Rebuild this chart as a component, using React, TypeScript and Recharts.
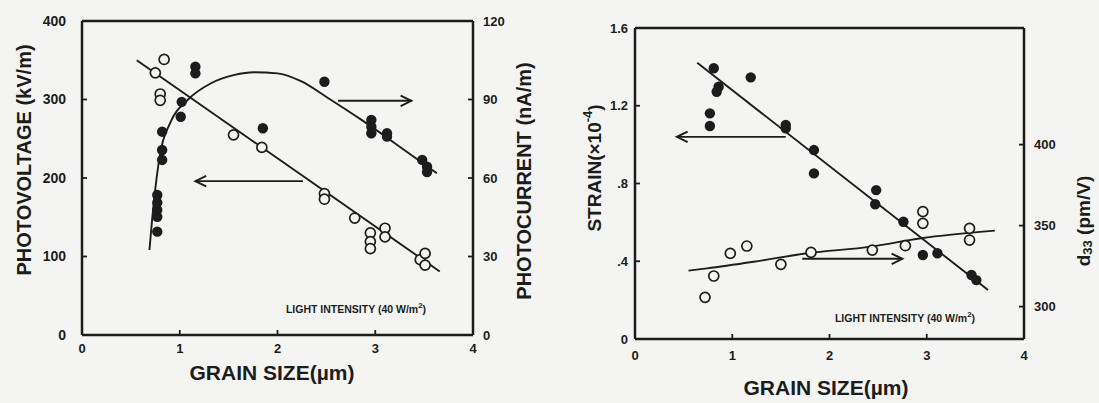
import React from 'react';
import { ScatterChart, Scatter, XAxis, YAxis, ReferenceLine } from 'recharts';

const BG = '#f4f5f2';
const INK = '#1c1c1c';
const FONT = '"Liberation Sans", Arial, sans-serif';

// ---------- Left panel data ----------
const grainTicks = [0, 1, 2, 3, 4];
const photovoltageTicks = [0, 100, 200, 300, 400];
const photocurrentTicks = [0, 30, 60, 90, 120];

const pvGrain = [0.75, 0.84, 0.8, 0.8, 1.55, 1.84, 2.48, 2.48, 2.79, 2.95, 2.95, 2.95, 3.1, 3.1, 3.46, 3.51, 3.51];
const pvValue = [334, 351, 307, 299, 255, 239, 180, 173, 149, 130, 119, 110, 136, 125, 96, 104, 89];

const pcGrain = [0.77, 0.77, 0.77, 0.77, 0.77, 0.82, 0.82, 0.82, 1.01, 1.02, 1.16, 1.16, 1.85, 2.48, 2.96, 2.96, 2.96, 3.12, 3.12, 3.48, 3.53, 3.53];
const pcValue = [39.5, 45.2, 47.8, 50.6, 53.5, 66.9, 70.7, 77.7, 83.4, 89.1, 102.5, 100, 79, 96.8, 82.2, 79.6, 77.1, 77.1, 75.8, 66.9, 64.3, 62.3];

const pvFitGrain = [0.56, 3.66];
const pvFitValue = [350, 81];

const pcCurveGrain = [0.69, 0.73, 0.8, 0.9, 1.08, 1.32, 1.56, 1.76, 2.0, 2.24, 2.52, 2.86, 3.2, 3.63];
const pcCurveValue = [32.5, 49, 69.4, 80.9, 89.8, 96.2, 99.4, 100.4, 100, 97, 90.5, 82.2, 73.3, 61.8];

const pvArrowGrain = [2.26, 1.16];
const pvArrowValue = [196, 196];
const pcArrowGrain = [2.62, 3.37];
const pcArrowValue = [89.5, 89.5];

// ---------- Right panel data ----------
const strainTicks = [0, 0.4, 0.8, 1.2, 1.6];
const d33Ticks = [300, 350, 400];

const strainGrain = [0.81, 0.86, 0.84, 1.19, 0.77, 0.77, 1.55, 1.55, 1.84, 1.84, 2.48, 2.47, 2.76, 2.96, 3.11, 3.46, 3.51];
const strainValue = [1.393, 1.298, 1.272, 1.346, 1.161, 1.096, 1.101, 1.084, 0.972, 0.852, 0.766, 0.693, 0.603, 0.432, 0.441, 0.329, 0.303];

const d33Grain = [0.72, 0.81, 0.98, 1.15, 1.5, 1.81, 2.44, 2.78, 2.96, 2.96, 3.44, 3.44];
const d33Value = [305.7, 318.9, 332.9, 337.4, 326.1, 333.5, 334.9, 337.6, 358.6, 351.4, 348.3, 341.1];

const strainFitGrain = [0.64, 3.63];
const strainFitValue = [1.421, 0.252];

const d33CurveGrain = [0.55, 0.74, 1.22, 1.77, 2.43, 2.94, 3.7];
const d33CurveValue = [322.2, 323.6, 327.7, 332.9, 337, 342.2, 346.9];

const strainArrowGrain = [1.55, 0.43];
const strainArrowValue = [1.04, 1.04];
const d33ArrowGrain = [1.72, 2.75];
const d33ArrowValue = [329.5, 329.5];

const zip = (xs: number[], ys: number[]) => xs.map((x, i) => ({ x, y: ys[i] }));

const OpenDot = (p: any) => (
  <circle cx={p.cx} cy={p.cy} r={5} fill={BG} stroke={INK} strokeWidth={1.7} />
);
const FilledDot = (p: any) => <circle cx={p.cx} cy={p.cy} r={5.2} fill={INK} />;
const NoDot = () => <g />;

const ArrowShape = (p: any) => {
  const { x1, y1, x2, y2 } = p;
  const ang = Math.atan2(y2 - y1, x2 - x1);
  const L = 12;
  const a = 0.45;
  const ax = x2 - L * Math.cos(ang - a);
  const ay = y2 - L * Math.sin(ang - a);
  const bx = x2 - L * Math.cos(ang + a);
  const by = y2 - L * Math.sin(ang + a);
  return (
    <g>
      <line x1={x1} y1={y1} x2={x2} y2={y2} stroke={INK} strokeWidth={1.9} />
      <polyline points={`${ax},${ay} ${x2},${y2} ${bx},${by}`} fill="none" stroke={INK} strokeWidth={1.9} />
    </g>
  );
};

const title = (text: React.ReactNode, x: number, y: number, angle: number, size: number) => ({
  content: () => (
    <text
      x={x}
      y={y}
      transform={angle ? `rotate(${angle} ${x} ${y})` : undefined}
      textAnchor="middle"
      dominantBaseline="central"
      fontFamily={FONT}
      fontWeight="bold"
      fontSize={size}
      fill={INK}
    >
      {text}
    </text>
  ),
});

const axisLine = { stroke: INK, strokeWidth: 2.5 };
const tickLine = { stroke: INK, strokeWidth: 1.8 };
const tickStyle = (size: number) => ({ fill: INK, fontSize: size, fontWeight: 'bold' as const, fontFamily: FONT });

const strainFmt = (v: number) => (v === 0 ? '0' : v >= 1 ? v.toFixed(1) : '.' + Math.round(v * 10));

const lineStyle = { stroke: INK, strokeWidth: 1.9, fill: 'none' };

function LeftPanel() {
  return (
    <ScatterChart width={550} height={403} margin={{ top: 21, right: 0, bottom: 0, left: 0 }}>
      <XAxis
        type="number"
        dataKey="x"
        domain={[0, 4]}
        ticks={grainTicks}
        height={68}
        axisLine={axisLine}
        tickLine={tickLine}
        tickSize={-5}
        tickMargin={14}
        tick={tickStyle(13)}
        label={title('GRAIN SIZE(µm)', 272, 372, 0, 21)}
      />
      <YAxis
        yAxisId="left"
        type="number"
        dataKey="y"
        domain={[0, 400]}
        ticks={photovoltageTicks}
        width={82}
        axisLine={axisLine}
        tickLine={tickLine}
        tickSize={-5}
        tickMargin={21}
        tick={tickStyle(14)}
        label={title('PHOTOVOLTAGE (kV/m)', 24, 160, -90, 20)}
      />
      <YAxis
        yAxisId="right"
        orientation="right"
        type="number"
        dataKey="y"
        domain={[0, 120]}
        ticks={photocurrentTicks}
        width={77}
        axisLine={axisLine}
        tickLine={tickLine}
        tickSize={-5}
        tickMargin={15}
        tick={tickStyle(13)}
        label={title('PHOTOCURRENT (nA/m)', 524, 181, -90, 20)}
      />
      <ReferenceLine yAxisId="left" y={400} stroke={INK} strokeWidth={2.5} />
      <ReferenceLine yAxisId="left" segment={zip(pvArrowGrain, pvArrowValue)} shape={ArrowShape} />
      <ReferenceLine yAxisId="right" segment={zip(pcArrowGrain, pcArrowValue)} shape={ArrowShape} />
      <Scatter yAxisId="left" data={zip(pvFitGrain, pvFitValue)} line={lineStyle} shape={NoDot} isAnimationActive={false} />
      <Scatter
        yAxisId="right"
        data={zip(pcCurveGrain, pcCurveValue)}
        line={lineStyle}
        lineJointType="monotoneX"
        shape={NoDot}
        isAnimationActive={false}
      />
      <Scatter yAxisId="left" data={zip(pvGrain, pvValue)} shape={OpenDot} isAnimationActive={false} />
      <Scatter yAxisId="right" data={zip(pcGrain, pcValue)} shape={FilledDot} isAnimationActive={false} />
      <ReferenceLine
        yAxisId="left"
        y={0}
        stroke="none"
        label={title(
          <>
            LIGHT INTENSITY (40 W/m<tspan dy={-4} fontSize={8}>2</tspan>
            <tspan dy={4}>)</tspan>
          </>,
          356,
          309,
          0,
          10.5
        )}
      />
    </ScatterChart>
  );
}

function RightPanel() {
  return (
    <ScatterChart width={549} height={403} margin={{ top: 28, right: 0, bottom: 0, left: 0 }}>
      <XAxis
        type="number"
        dataKey="x"
        domain={[0, 4]}
        ticks={grainTicks}
        height={64}
        axisLine={axisLine}
        tickLine={tickLine}
        tickSize={-5}
        tickMargin={17}
        tick={tickStyle(13)}
        label={title('GRAIN SIZE(µm)', 276, 387, 0, 21)}
      />
      <YAxis
        yAxisId="left"
        type="number"
        dataKey="y"
        domain={[0, 1.6]}
        ticks={strainTicks}
        tickFormatter={strainFmt}
        width={85}
        axisLine={axisLine}
        tickLine={tickLine}
        tickSize={-5}
        tickMargin={12}
        tick={tickStyle(13)}
        label={title(
          <>
            STRAIN(×10<tspan dy={-7} fontSize={13}>-4</tspan>
            <tspan dy={7}>)</tspan>
          </>,
          44,
          168,
          -90,
          19
        )}
      />
      <YAxis
        yAxisId="right"
        orientation="right"
        type="number"
        dataKey="y"
        domain={[280, 472]}
        ticks={d33Ticks}
        width={75}
        axisLine={axisLine}
        tickLine={tickLine}
        tickSize={-5}
        tickMargin={15}
        tick={tickStyle(13)}
        label={title(
          <>
            d<tspan dy={4} fontSize={13}>33</tspan>
            <tspan dy={-4}> (pm/V)</tspan>
          </>,
          533,
          221,
          -90,
          19
        )}
      />
      <ReferenceLine yAxisId="left" y={1.6} stroke={INK} strokeWidth={2.5} />
      <ReferenceLine yAxisId="left" segment={zip(strainArrowGrain, strainArrowValue)} shape={ArrowShape} />
      <ReferenceLine yAxisId="right" segment={zip(d33ArrowGrain, d33ArrowValue)} shape={ArrowShape} />
      <Scatter yAxisId="left" data={zip(strainFitGrain, strainFitValue)} line={lineStyle} shape={NoDot} isAnimationActive={false} />
      <Scatter
        yAxisId="right"
        data={zip(d33CurveGrain, d33CurveValue)}
        line={lineStyle}
        lineJointType="monotoneX"
        shape={NoDot}
        isAnimationActive={false}
      />
      <Scatter yAxisId="right" data={zip(d33Grain, d33Value)} shape={OpenDot} isAnimationActive={false} />
      <Scatter yAxisId="left" data={zip(strainGrain, strainValue)} shape={FilledDot} isAnimationActive={false} />
      <ReferenceLine
        yAxisId="left"
        y={0}
        stroke="none"
        label={title(
          <>
            LIGHT INTENSITY (40 W/m<tspan dy={-4} fontSize={8}>2</tspan>
            <tspan dy={4}>)</tspan>
          </>,
          355,
          318,
          0,
          10.5
        )}
      />
    </ScatterChart>
  );
}

export default function App() {
  return (
    <div
      style={{
        position: 'absolute',
        left: 0,
        top: 0,
        width: 1099,
        height: 403,
        background: BG,
        overflow: 'hidden',
      }}
    >
      <div style={{ position: 'absolute', left: 0, top: 0 }}>
        <LeftPanel />
      </div>
      <div style={{ position: 'absolute', left: 550, top: 0 }}>
        <RightPanel />
      </div>
    </div>
  );
}
